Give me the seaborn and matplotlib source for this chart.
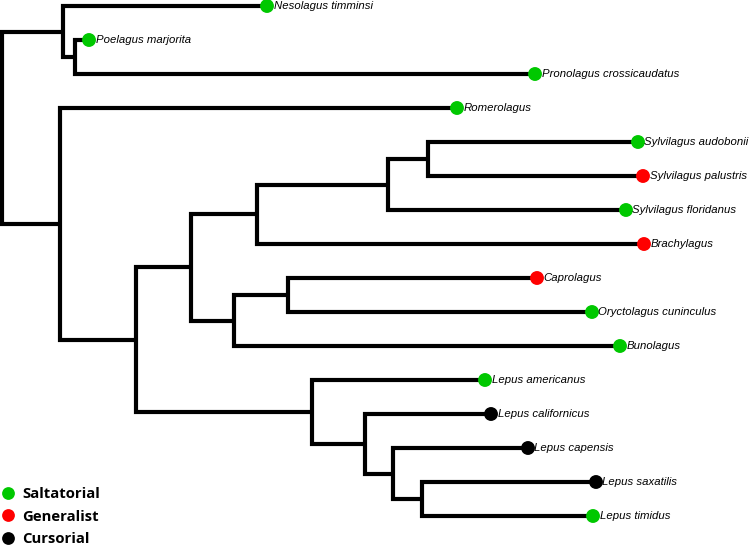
import matplotlib
matplotlib.use("Agg")
import matplotlib.pyplot as plt
from matplotlib.lines import Line2D
import seaborn as sns
import pandas as pd

## Tip taxa (top to bottom), their depth along the tree and locomotor guild
tips = ["Nesolagus timminsi", "Poelagus marjorita", "Pronolagus crossicaudatus",
        "Romerolagus", "Sylvilagus audobonii", "Sylvilagus palustris",
        "Sylvilagus floridanus", "Brachylagus", "Caprolagus",
        "Oryctolagus cuninculus", "Bunolagus", "Lepus americanus",
        "Lepus californicus", "Lepus capensis", "Lepus saxatilis", "Lepus timidus"]
tip_depth = [267, 89, 535, 457, 638, 643, 626, 644, 537, 592, 620, 485, 491, 528, 596, 593]
guild = ["Saltatorial", "Saltatorial", "Saltatorial", "Saltatorial", "Saltatorial",
         "Generalist", "Saltatorial", "Generalist", "Generalist", "Saltatorial",
         "Saltatorial", "Saltatorial", "Cursorial", "Cursorial", "Cursorial", "Saltatorial"]

## Internal nodes: depth and children
node_depth = {"root": 2, "A": 63, "A2": 75, "B": 60, "C": 136, "D": 191, "E": 257,
              "F": 388, "G": 428, "H": 234, "I": 288, "L": 312, "L2": 365,
              "L3": 393, "L4": 422}
node_children = {
    "root": ["A", "B"],
    "A": ["Nesolagus timminsi", "A2"],
    "A2": ["Poelagus marjorita", "Pronolagus crossicaudatus"],
    "B": ["Romerolagus", "C"],
    "C": ["D", "L"],
    "D": ["E", "H"],
    "E": ["F", "Brachylagus"],
    "F": ["G", "Sylvilagus floridanus"],
    "G": ["Sylvilagus audobonii", "Sylvilagus palustris"],
    "H": ["I", "Bunolagus"],
    "I": ["Caprolagus", "Oryctolagus cuninculus"],
    "L": ["Lepus americanus", "L2"],
    "L2": ["Lepus californicus", "L3"],
    "L3": ["Lepus capensis", "L4"],
    "L4": ["Lepus saxatilis", "Lepus timidus"],
}

guild_colors = {"Saltatorial": "#00c800", "Generalist": "#ff0000", "Cursorial": "#000000"}

df = pd.DataFrame({"taxon": tips, "x": tip_depth, "y": range(len(tips)), "guild": guild})

xpos = dict(zip(df["taxon"], df["x"]))
ypos = dict(zip(df["taxon"], df["y"]))
xpos.update(node_depth)

def place(n):
    if n in ypos:
        return ypos[n]
    ys = [place(c) for c in node_children[n]]
    ypos[n] = (min(ys) + max(ys)) / 2
    return ypos[n]

place("root")

fig = plt.figure(figsize=(7.49, 5.47), dpi=100)
ax = fig.add_axes([0, 0, 1, 1])

## Branches
for n, kids in node_children.items():
    for c in kids:
        ax.plot([xpos[n], xpos[n], xpos[c]], [ypos[n], ypos[c], ypos[c]],
                color="black", lw=3.0, solid_joinstyle="miter",
                solid_capstyle="butt", zorder=1)

## Tips
sns.scatterplot(data=df, x="x", y="y", hue="guild", palette=guild_colors,
                s=100, linewidth=0, legend=False, ax=ax, zorder=3)
for _, r in df.iterrows():
    ax.text(r["x"] + 6.5, r["y"], r["taxon"], fontsize=8.2, style="italic",
            family="Liberation Sans", va="center", ha="left")

ax.set_xlim(0, 749)
ax.set_ylim((547 - 6) / 34, -6 / 34)
ax.axis("off")

handles = [Line2D([], [], marker="o", ls="none", color=guild_colors[g],
                  markersize=9.2, markeredgewidth=0) for g in guild_colors]
leg = ax.legend(handles, list(guild_colors), loc="lower left",
                bbox_to_anchor=(0.0, 0.0), frameon=False,
                prop={"family": "Open Sans", "weight": "bold", "size": 10.7},
                handlelength=1.0, handletextpad=0.45, labelspacing=0.58,
                borderpad=0.05, borderaxespad=0)

plt.savefig("out.png", dpi=100)
